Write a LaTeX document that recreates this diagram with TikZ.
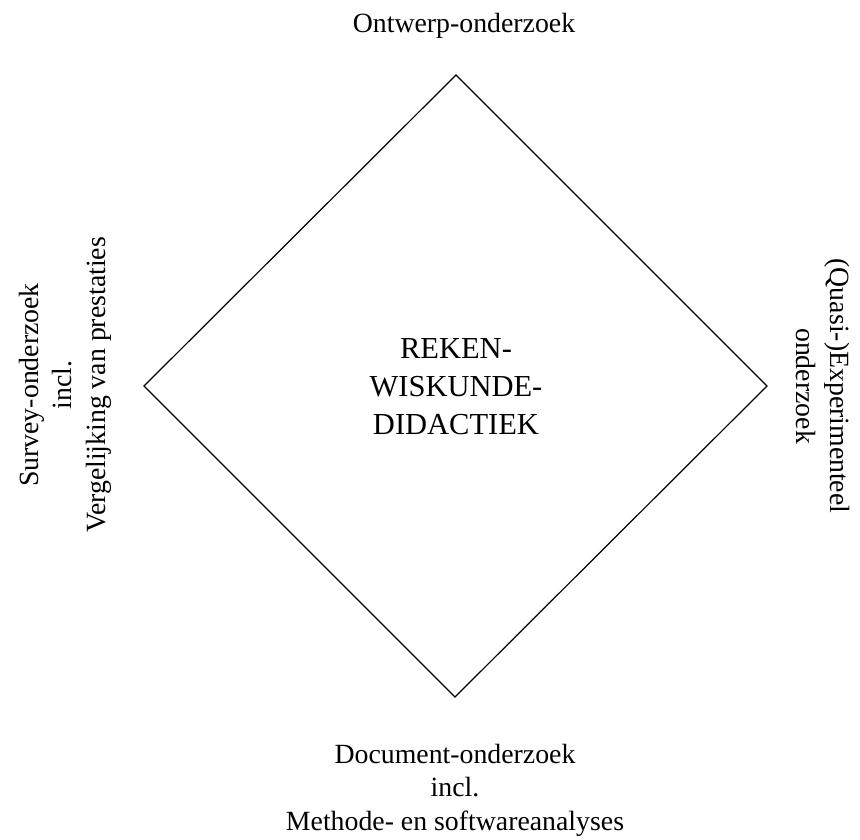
\documentclass[tikz,border=0pt]{standalone}
\usepackage{fontspec}
\setmainfont{Liberation Serif}
\begin{document}
\begin{tikzpicture}[x=1pt,y=-1pt,
  lbl/.style={inner sep=0pt,align=center,font=\fontsize{27.8}{33.4}\selectfont},
  core/.style={inner sep=0pt,align=center,font=\fontsize{30.5}{38}\selectfont},
  edge/.style={draw=black,line width=1.2pt,line join=miter}]
\useasboundingbox (0,0) rectangle (860,839);
\coordinate (T) at (456,75);
\coordinate (R) at (767,386);
\coordinate (B) at (455,697);
\coordinate (L) at (144,386);
\draw[edge] (T) -- (R) -- (B) -- (L) -- cycle;
\node[core] (c) at (456,387) {REKEN-\\WISKUNDE-\\DIDACTIEK};
\node[lbl,anchor=base] (top) at (464,32) {Ontwerp-onderzoek};
\node[lbl] (bot) at (455,790) {Document-onderzoek\\incl.\\Methode- en softwareanalyses};
\node[lbl,rotate=90] (left) at (65,385) {Survey-onderzoek\\incl.\\Vergelijking van prestaties};
\node[lbl,rotate=-90] (right) at (823,386) {(Quasi-)Experimenteel\\onderzoek};
\end{tikzpicture}
\end{document}
